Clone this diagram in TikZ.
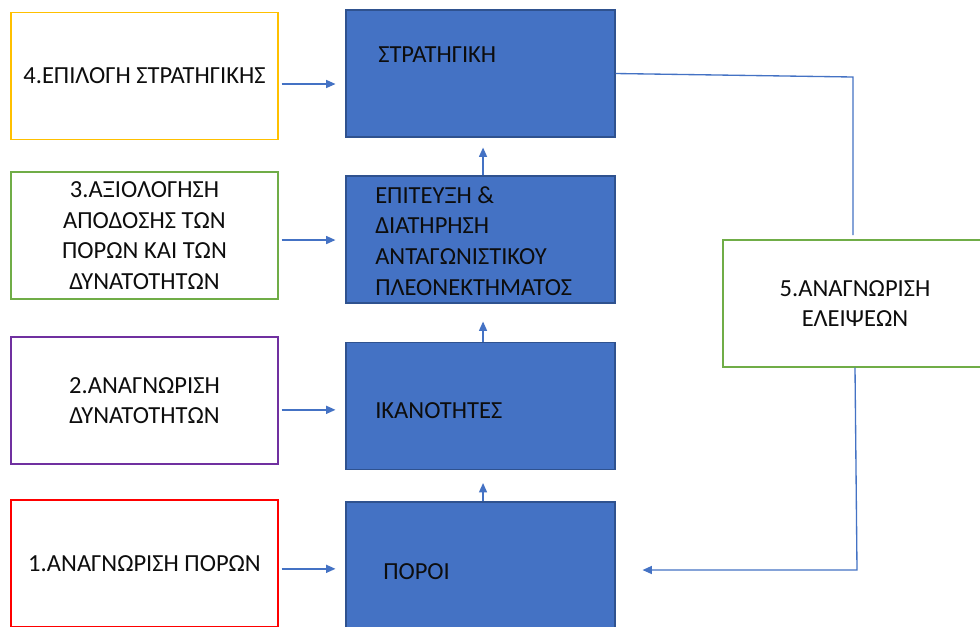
\documentclass[tikz,border=0pt]{standalone}
\usepackage{fontspec}
\setmainfont{Carlito}
\usetikzlibrary{arrows.meta}
\definecolor{cyellow}{HTML}{FFC000}
\definecolor{cgreen}{HTML}{70AD47}
\definecolor{cpurple}{HTML}{7030A0}
\definecolor{cred}{HTML}{FF0000}
\definecolor{fillblue}{HTML}{4472C4}
\definecolor{bordblue}{HTML}{2F528F}
\definecolor{lineblue}{HTML}{4472C4}
\definecolor{textdark}{HTML}{0D0D0D}
\begin{document}
\begin{tikzpicture}[x=0.75pt,y=-0.75pt,
  lbox/.style={draw, line width=1pt, fill=white, minimum width=200.25pt, minimum height=95.25pt, align=center, inner sep=0pt, text=textdark, font=\fontsize{18.4}{23}\selectfont},
  bbox/.style={draw=bordblue, fill=fillblue, line width=0.8pt, minimum width=201.75pt, minimum height=95.25pt, inner sep=0pt},
  txt/.style={anchor=west, align=left, inner sep=0pt, text=textdark, font=\fontsize{18.4}{23}\selectfont},
  conn/.style={draw=lineblue, line width=1pt},
  arr/.style={conn, -{Triangle[length=7pt,width=6pt]}}]
\useasboundingbox (0,0) rectangle (980,626);
\clip (0,0) rectangle (980,626);
\fill[white] (0,0) rectangle (980,626);
% left boxes
\node[lbox, draw=cyellow] (l4) at (144.5,76) {4.ΕΠΙΛΟΓΗ ΣΤΡΑΤΗΓΙΚΗΣ};
\node[lbox, draw=cgreen] (l3) at (144.5,235.5) {3.ΑΞΙΟΛΟΓΗΣΗ\\ΑΠΟΔΟΣΗΣ ΤΩΝ\\ΠΟΡΩΝ ΚΑΙ ΤΩΝ\\ΔΥΝΑΤΟΤΗΤΩΝ};
\node[lbox, draw=cpurple] (l2) at (144.5,400.5) {2.ΑΝΑΓΝΩΡΙΣΗ\\ΔΥΝΑΤΟΤΗΤΩΝ};
\node[lbox, draw=cred] (l1) at (144.5,563.5) {1.ΑΝΑΓΝΩΡΙΣΗ ΠΟΡΩΝ};
% blue boxes
\node[bbox] (s1) at (480.5,73.5) {};
\node[bbox] (s2) at (480.5,239.5) {};
\node[bbox] (s3) at (480.5,406) {};
\node[bbox] (s4) at (480.5,565.5) {};
\node[txt] (t1) at (378,55) {ΣΤΡΑΤΗΓΙΚΗ};
\node[txt] (t2) at (375,241) {ΕΠΙΤΕΥΞΗ \&\\ΔΙΑΤΗΡΗΣΗ\\ΑΝΤΑΓΩΝΙΣΤΙΚΟΥ\\ΠΛΕΟΝΕΚΤΗΜΑΤΟΣ};
\node[txt] (t3) at (375,411) {ΙΚΑΝΟΤΗΤΕΣ};
\node[txt] (t4) at (383,572) {ΠΟΡΟΙ};
% right box
\node[lbox, draw=cgreen, minimum width=198pt] (r5) at (855,303.5) {5.ΑΝΑΓΝΩΡΙΣΗ\\ΕΛΕΙΨΕΩΝ};
% horizontal arrows
\draw[arr] ([xshift=2.25pt,yshift=-6pt]l4.east) -- ([xshift=-7.5pt,yshift=-6pt]l4.east -| s1.west);
\draw[arr] ([xshift=2.25pt,yshift=-3.4pt]l3.east) -- ([xshift=-7.5pt,yshift=-3.4pt]l3.east -| s2.west);
\draw[arr] ([xshift=2.25pt,yshift=-7pt]l2.east) -- ([xshift=-7.5pt,yshift=-7pt]l2.east -| s3.west);
\draw[arr] ([xshift=2.25pt,yshift=-4pt]l1.east) -- ([xshift=-7.5pt,yshift=-4pt]l1.east -| s4.west);
% vertical arrows
\draw[arr] ([xshift=1.9pt]s2.north) -- ([xshift=1.9pt,yshift=-7.5pt]s1.south);
\draw[arr] ([xshift=1.9pt]s3.north) -- ([xshift=1.9pt,yshift=-13.5pt]s2.south);
\draw[arr] ([xshift=1.9pt]s4.north) -- ([xshift=1.9pt,yshift=-9.75pt]s3.south);
% feedback loop
\coordinate (c1) at (853,77);
\coordinate (c2) at (853,235);
\coordinate (c3) at (857,570);
\draw[conn] (s1.east) -- (c1) -- (c2);
\draw[arr] (r5.south) -- (c3) -- ([xshift=20.25pt]s4.east |- c3);
\end{tikzpicture}
\end{document}
